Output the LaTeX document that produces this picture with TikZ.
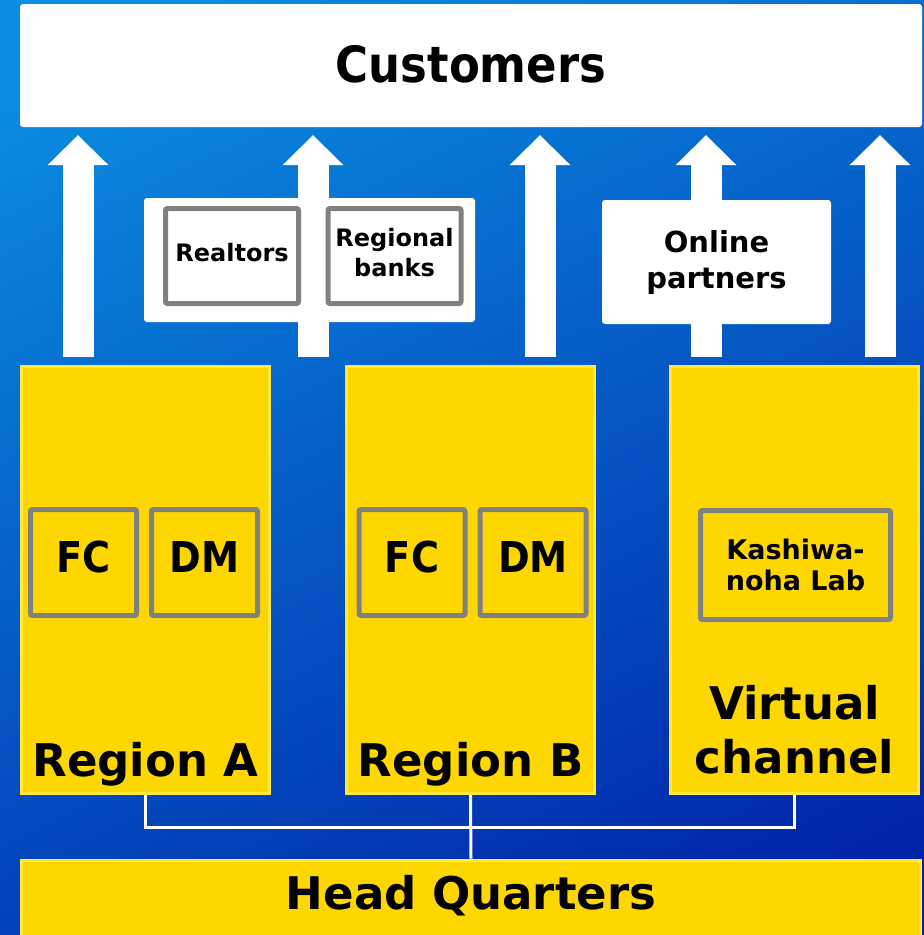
\documentclass[tikz,border=0pt]{standalone}
\usepackage{fontspec}
\setmainfont{DejaVu Sans}
\newfontfamily\narrowfont[FakeStretch=0.9]{DejaVu Sans}
\usetikzlibrary{arrows.meta,positioning}
\definecolor{skytop}{RGB}{10,140,224}
\definecolor{skymid}{RGB}{0,86,204}
\definecolor{skybot}{RGB}{0,36,168}
\definecolor{gold}{RGB}{255,215,0}
\definecolor{goldedge}{RGB}{255,232,64}
\definecolor{frame}{RGB}{128,128,128}

\begin{document}
\begin{tikzpicture}[
    x=1pt, y=-1pt,
    panel/.style={fill=white, rounded corners=3pt, inner sep=0pt, align=center},
    region/.style={fill=gold, draw=goldedge, line width=3pt, inner sep=0pt, minimum width=248pt, minimum height=427pt},
    unit/.style={fill=gold, draw=frame, line width=5pt, rounded corners=2pt, inner sep=0pt, minimum width=106pt, minimum height=106pt},
    fcdm/.style={unit, text depth=11pt, font=\narrowfont\bfseries\fontsize{42.5}{48}\selectfont},
    partner/.style={fill=white, draw=frame, line width=5pt, rounded corners=2pt, inner sep=0pt, minimum width=133pt, minimum height=95pt, align=center, text depth=7pt, font=\bfseries\fontsize{24}{30}\selectfont},
    bigtext/.style={font=\bfseries\fontsize{45}{54}\selectfont, inner sep=0pt, align=center},
    uparrow/.style={white, line width=31pt, -{Triangle[width=61pt, length=30pt, line width=0pt]}, shorten <=8pt, shorten >=8pt},
    link/.style={white, line width=3pt}
  ]
  \useasboundingbox (0,0) rectangle (924,935);
  \shade[top color=skytop, middle color=skymid, bottom color=skybot, shading angle=25] (-60,-60) rectangle (984,995);

  % Main components
  \node[panel, minimum width=902pt, minimum height=123pt, text depth=3pt, font=\narrowfont\bfseries\fontsize{50}{56}\selectfont] (cust) at (471,65.5) {Customers};
  \node[region] (regA) at (145.5,580) {};
  \node[region, right=74pt of regA] (regB) {};
  \node[region, right=73pt of regB] (virt) {};
  \node[fill=gold, draw=goldedge, line width=3pt, inner sep=0pt, minimum width=899pt, minimum height=90pt] (hq) at (471,905) {};

  % Arrows to customers
  \foreach \x in {78,313,540,706,880}
    \draw[uparrow] (\x,0 |- regA.north) -- (\x,0 |- cust.south);

  % Partners
  \node[panel, minimum width=331pt, minimum height=124pt] (agents) at (309.5,260) {};
  \node[partner] (realtors) at (232,256) {Realtors};
  \node[partner] (banks) at (394.5,256) {Regional\\banks};
  \node[panel, minimum width=229pt, minimum height=124pt, font=\bfseries\fontsize{29}{36}\selectfont] (online) at (716.5,262) {Online\\partners};

  % Units inside regions
  \node[fcdm] (fcA) at (83.5,562.5) {FC};
  \node[fcdm, right=10pt of fcA] (dmA) {DM};
  \node[fcdm] (fcB) at (412,562.5) {FC};
  \node[fcdm, right=10pt of fcB] (dmB) {DM};
  \node[unit, minimum width=190pt, minimum height=109pt, align=center, font=\bfseries\fontsize{27}{31}\selectfont] (lab) at (795.5,565) {Kashiwa-\\noha Lab};

  % Labels
  \node[bigtext, anchor=base] (regAlbl) at ([yshift=19pt]regA.south) {Region A};
  \node[bigtext, anchor=base] (regBlbl) at ([yshift=19pt]regB.south) {Region B};
  \node[bigtext, anchor=south] (virtlbl) at ([yshift=21pt]virt.south) {Virtual\\channel};
  \node[bigtext, anchor=base] (hqlbl) at ([yshift=-51pt]hq.north) {Head Quarters};

  % Connections
  \coordinate (bus) at (0,827);
  \draw[link] (regA.south) -- (regA.south |- bus) -- (virt.south |- bus) -- (virt.south);
  \draw[link] (regB.south) -- (hq.north);

\end{tikzpicture}
\end{document}
